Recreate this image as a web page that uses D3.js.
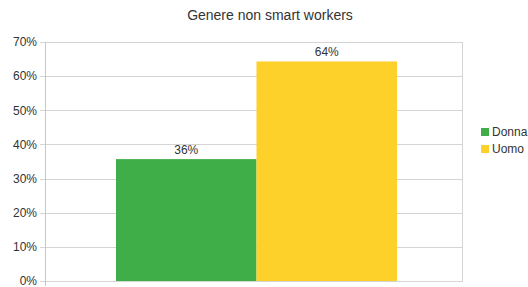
<!DOCTYPE html>
<html>
<head>
<meta charset="utf-8">
<script src="https://cdn.jsdelivr.net/npm/d3@7"></script>
<style>
  body { margin: 0; background: #fff; }
  svg text { font-family: "Liberation Sans", Arial, sans-serif; fill: #333; }
</style>
</head>
<body>
<div class="canvas"></div>
<script>
// data
const categories = ['Donna', 'Uomo'];
const values = [35.7, 64.3];
const valueLabels = ['36%', '64%'];
const colors = ['#3fae48', '#fed02a'];
const yTicks = [0, 10, 20, 30, 40, 50, 60, 70];

// margins
const margin = {top: 42, right: 65, bottom: 6, left: 45};
const width = 528, height = 287;
const graphWidth = width - margin.left - margin.right;
const graphHeight = height - margin.top - margin.bottom;

const svg = d3.select('.canvas').append('svg')
    .attr('width', width)
    .attr('height', height);

// title
svg.append('text')
    .attr('x', 270)
    .attr('y', 20)
    .attr('text-anchor', 'middle')
    .style('font-size', '14px')
    .text('Genere non smart workers');

const graph = svg.append('g')
    .attr('transform', `translate(${margin.left}, ${margin.top})`);

// scales
const y = d3.scaleLinear().domain([0, 70]).range([graphHeight, 0]);
const x = d3.scaleBand().domain(categories)
    .range([71, 352]).padding(0);

// gridlines
graph.append('g')
    .selectAll('line')
    .data(yTicks)
    .join('line')
    .attr('x1', -5).attr('x2', graphWidth)
    .attr('y1', d => Math.round(y(d)) + 0.5)
    .attr('y2', d => Math.round(y(d)) + 0.5)
    .attr('stroke', '#d4d4d4');

// y axis labels
const yAxis = d3.axisLeft(y).tickValues(yTicks).tickSize(0).tickPadding(8)
    .tickFormat(d => d + '%');
graph.append('g').call(yAxis)
    .call(g => g.select('.domain').remove())
    .selectAll('text')
    .style('font-size', '12px')
    .style('font-family', '"Liberation Sans", Arial, sans-serif')
    .attr('fill', '#333');

// frame lines
graph.append('line')
    .attr('x1', 0.5).attr('x2', 0.5)
    .attr('y1', 0).attr('y2', graphHeight + 5)
    .attr('stroke', '#c8c8c8');
graph.append('line')
    .attr('x1', graphWidth - 0.5).attr('x2', graphWidth - 0.5)
    .attr('y1', 0).attr('y2', graphHeight)
    .attr('stroke', '#d4d4d4');

// bars
graph.selectAll('rect.bar')
    .data(values)
    .join('rect')
    .attr('class', 'bar')
    .attr('x', (d, i) => x(categories[i]))
    .attr('width', x.bandwidth())
    .attr('y', d => y(d))
    .attr('height', d => graphHeight - y(d))
    .attr('fill', (d, i) => colors[i]);

// value labels
graph.selectAll('text.val')
    .data(values)
    .join('text')
    .attr('class', 'val')
    .attr('x', (d, i) => x(categories[i]) + x.bandwidth() / 2)
    .attr('y', d => y(d) - 5)
    .attr('text-anchor', 'middle')
    .style('font-size', '12px')
    .text((d, i) => valueLabels[i]);

// legend
const legend = svg.append('g').attr('transform', 'translate(481, 128)');
categories.forEach((c, i) => {
    legend.append('rect')
        .attr('x', 0).attr('y', i * 17)
        .attr('width', 8).attr('height', 8)
        .attr('fill', colors[i]);
    legend.append('text')
        .attr('x', 11).attr('y', i * 17 + 8)
        .style('font-size', '12px')
        .text(c);
});
</script>
</body>
</html>
